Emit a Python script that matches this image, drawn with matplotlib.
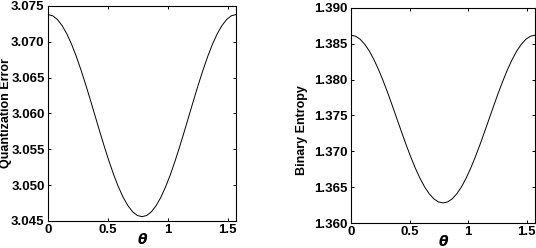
import matplotlib
matplotlib.use('Agg')
import matplotlib.pyplot as plt
from matplotlib.ticker import FormatStrFormatter

theta = [0.0000, 0.0393, 0.0785, 0.1178, 0.1571, 0.1963, 0.2356, 0.2749, 0.3142, 0.3534,
         0.3927, 0.4320, 0.4712, 0.5105, 0.5498, 0.5890, 0.6283, 0.6676, 0.7069, 0.7461,
         0.7854, 0.8247, 0.8639, 0.9032, 0.9425, 0.9817, 1.0210, 1.0603, 1.0996, 1.1388,
         1.1781, 1.2174, 1.2566, 1.2959, 1.3352, 1.3744, 1.4137, 1.4530, 1.4923, 1.5315,
         1.5708]

quant_err = [3.07380, 3.07363, 3.07311, 3.07226, 3.07111, 3.06967, 3.06799, 3.06610, 3.06406, 3.06191,
             3.05970, 3.05749, 3.05534, 3.05330, 3.05141, 3.04973, 3.04829, 3.04714, 3.04629, 3.04577,
             3.04560, 3.04577, 3.04629, 3.04714, 3.04829, 3.04973, 3.05141, 3.05330, 3.05534, 3.05749,
             3.05970, 3.06191, 3.06406, 3.06610, 3.06799, 3.06967, 3.07111, 3.07226, 3.07311, 3.07363,
             3.07380]

bin_entropy = [1.38620, 1.38606, 1.38563, 1.38492, 1.38397, 1.38277, 1.38138, 1.37981, 1.37812, 1.37633,
               1.37450, 1.37267, 1.37088, 1.36919, 1.36762, 1.36623, 1.36503, 1.36408, 1.36337, 1.36294,
               1.36280, 1.36294, 1.36337, 1.36408, 1.36503, 1.36623, 1.36762, 1.36919, 1.37088, 1.37267,
               1.37450, 1.37633, 1.37812, 1.37981, 1.38138, 1.38277, 1.38397, 1.38492, 1.38563, 1.38606,
               1.38620]

x_ticks = [0, 0.5, 1, 1.5]
x_ticklabels = ['0', '0.5', '1', '1.5']
q_ticks = [3.045, 3.050, 3.055, 3.060, 3.065, 3.070, 3.075]
e_ticks = [1.360, 1.365, 1.370, 1.375, 1.380, 1.385, 1.390]

plt.rcParams['font.family'] = ['Liberation Sans', 'DejaVu Sans']
plt.rcParams['font.weight'] = 'bold'

fig = plt.figure(figsize=(5.36, 2.48), dpi=100)
ax1 = fig.add_axes([0.0896, 0.1089, 0.3507, 0.867])
ax2 = fig.add_axes([0.6549, 0.1008, 0.3433, 0.867])

# axes, data, y ticks, y label, label x, label y
panels = [(ax1, quant_err, q_ticks, 'Quantization Error', -0.19, 0.5),
          (ax2, bin_entropy, e_ticks, 'Binary Entropy', -0.235, 0.43)]

for ax, y, yt, lab, lx, ly in panels:
    ax.plot(theta, y, color='black', lw=0.7)
    ax.set_xlim(0, 1.5708)
    ax.set_ylim(yt[0], yt[-1])
    ax.set_xticks(x_ticks)
    ax.set_xticklabels(x_ticklabels)
    ax.set_yticks(yt)
    ax.yaxis.set_major_formatter(FormatStrFormatter('%.3f'))
    ax.tick_params(direction='in', length=2.5, width=0.7, top=True, right=True,
                   labelsize=9.5, pad=2.5)
    for s in ax.spines.values():
        s.set_linewidth(0.8)
    ax.set_ylabel(lab, fontsize=9, fontweight='bold')
    ax.yaxis.set_label_coords(lx, ly)
    ax.set_xlabel('θ', fontsize=10, style='italic', fontweight='bold',
                  family='DejaVu Sans', labelpad=-2.5)

fig.savefig('out.png', dpi=100)
